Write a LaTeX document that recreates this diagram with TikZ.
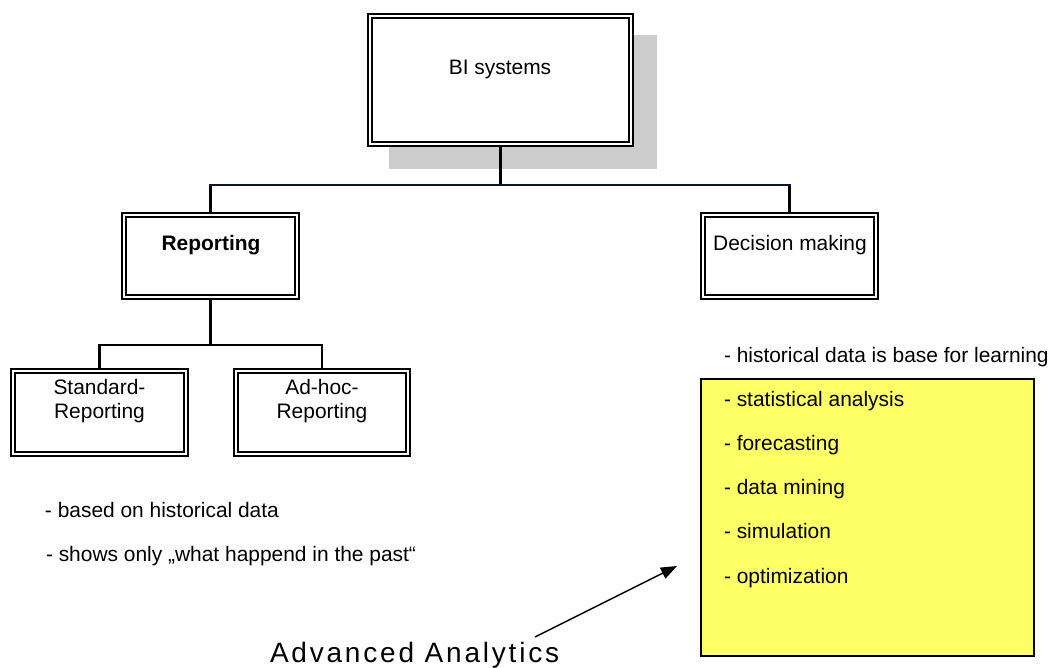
\documentclass[tikz,border=0pt]{standalone}
\usepackage{fontspec}
\setmainfont{Liberation Sans}
\newfontfamily\spacedfont[LetterSpace=10]{Liberation Sans}
\usetikzlibrary{arrows.meta,backgrounds}
\definecolor{shadowgray}{HTML}{CCCCCC}
\definecolor{notefill}{HTML}{FFFF66}
\definecolor{busblue}{HTML}{0A1433}

\begin{document}
\begin{tikzpicture}[x=0.75pt,y=-0.75pt,
  every node/.style={font=\fontsize{15.7}{18}\selectfont, inner sep=0pt, outer sep=0pt},
  dbox/.style={draw, fill=white, double, line width=1.5pt, double distance=1.3pt},
  smallbox/.style={dbox, minimum width=129.75pt, minimum height=62.25pt},
  notebox/.style={draw, fill=notefill, line width=1.1pt},
  conn/.style={line width=1.7pt},
  txt/.style={anchor=base},
  item/.style={anchor=base west},
  pointer/.style={line width=1.1pt, -{Triangle[length=12pt,width=9pt]}}
]
\useasboundingbox (0,0) rectangle (1054,668);

% top box
\node[dbox, minimum width=195.75pt, minimum height=96pt] (bi) at (500.5,80) {};
\node[txt] (bi-text) at (500,74) {BI systems};

% second level
\node[smallbox, minimum height=61.5pt] (rep) at (210.5,256) {};
\node[txt, font=\fontsize{15.7}{18}\selectfont\bfseries] (rep-text) at (211,250) {Reporting};
\node[smallbox, minimum height=61.5pt] (dec) at (789.5,256) {};
\node[txt] (dec-text) at (790,250) {Decision making};

% third level
\node[smallbox] (std) at (99.5,412.5) {};
\node[txt] (std-a) at (99.5,394) {Standard-};
\node[txt] (std-b) at (99.5,418) {Reporting};
\node[smallbox, minimum width=129pt] (adh) at (322,412.5) {};
\node[txt] (adh-a) at (322,394) {Ad-hoc-};
\node[txt] (adh-b) at (322,418) {Reporting};

% bus coordinates
\coordinate (bus1) at (500.5,185);
\coordinate (bus2) at (210.5,345);

\begin{pgfonlayer}{background}
  \fill[shadowgray] (389,35) rectangle (657,169);
  \draw[conn] (bi.south) -- (bus1);
  \draw[conn] (rep.north) -- (rep.north |- bus1);
  \draw[conn] (dec.north) -- (dec.north |- bus1);
  \draw[conn, busblue, line cap=rect] (rep.north |- bus1) -- (dec.north |- bus1);
  \draw[conn] (rep.south) -- (bus2);
  \draw[conn] (std.north) |- (bus2) -| (adh.north);
\end{pgfonlayer}

% notes under reporting
\node[item] (note1) at (45,517) {- based on historical data};
\node[item] (note2) at (46,561) {- shows only „what happend in the past“};

% analytics box
\node[item] (learn) at (724,362) {- historical data is base for learning};
\node[notebox, minimum width=249.75pt, minimum height=207.75pt] (analytics) at (867.5,517.5) {};
\node[item] (it1) at (724,406) {- statistical analysis};
\node[item] (it2) at (724,450) {- forecasting};
\node[item] (it3) at (724,494) {- data mining};
\node[item] (it4) at (724,538) {- simulation};
\node[item] (it5) at (724,583) {- optimization};

% caption with pointer
\node[anchor=base west, font=\spacedfont\fontsize{21}{24}\selectfont] (aa) at (270,662) {Advanced Analytics};
\coordinate (aa-tail) at (535,637);
\coordinate (aa-tip) at (677,566);
\draw[pointer] (aa-tail) -- (aa-tip);
\end{tikzpicture}
\end{document}
